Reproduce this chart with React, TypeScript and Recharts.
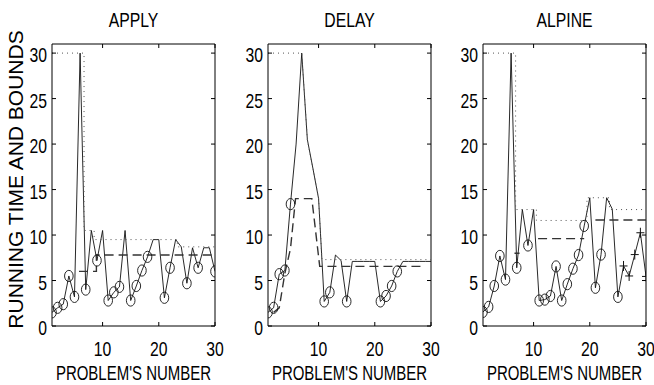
import React from 'react';
import { LineChart, Line, XAxis, YAxis, ReferenceLine } from 'recharts';

// problem numbers run 1..30 on every panel
const X_TICKS = [10, 20, 30];
const Y_TICKS = [0, 5, 10, 15, 20, 25, 30];
const TITLES = ['APPLY', 'DELAY', 'ALPINE'];
const X_LABEL = "PROBLEM'S NUMBER";
const Y_LABEL = 'RUNNING TIME AND BOUNDS';

// APPLY
const applyTime = [1.5, 2.0, 2.4, 5.5, 3.2, 30, 4.0, 10.5, 7.2, 10.5, 2.8, 3.7, 4.3, 10.5, 2.8, 4.4, 6.1, 7.6, 9.5, 9.5, 3.1, 6.4, 9.5, 8.7, 4.7, 8.6, 6.4, 8.6, 8.6, 6.0];
const applyMarks = 'ooooo.o.o.ooo.oooo..oo..o.o..o';
const applyUpperX = [1, 6.7, 6.7, 8.5, 8.5, 23.3, 23.3, 30];
const applyUpperY = [30, 30, 10.5, 10.5, 9.5, 9.5, 8.7, 8.7];
const applyLowerX = [5.8, 8.9, 8.9, 30];
const applyLowerY = [6, 6, 7.8, 7.8];

// DELAY
const delayTime = [1.5, 2.0, 5.7, 6.1, 13.4, 20, 30, 20.5, 17.3, 14.0, 2.7, 3.7, 7.8, 7.2, 2.7, 7.1, 7.1, 7.1, 7.1, 7.1, 2.7, 3.3, 4.4, 6.0, 7.1, 7.1, 7.1, 7.1, 7.1, 7.1];
const delayMarks = 'ooooo.....oo..o.....oooo......';
const delayUpperX = [1, 7, 8, 9, 10, 10.6, 30];
const delayUpperY = [30, 30, 20.5, 17.3, 14, 7.3, 7.3];
const delayLowerX = [2, 3, 4, 5, 5.9, 8.8, 10.2, 29];
const delayLowerY = [1.5, 2.0, 5.8, 8.5, 14, 14, 6.55, 6.55];

// ALPINE
const alpineTime = [1.55, 2.1, 4.4, 7.7, 5.1, 30, 6.4, 12.8, 8.85, 12.8, 2.8, 2.9, 3.3, 6.55, 2.8, 4.6, 6.3, 7.8, 11.0, 14.1, 4.2, 7.85, 14.1, 12.85, 3.2, 6.6, 5.5, 7.85, 10.25, 5.45];
const alpineMarks = 'ooooo.o.o.ooooooooo.oo..o+++++';
const alpineUpperX = [1, 6.8, 6.8, 10.5, 10.5, 19.5, 19.5, 23.5, 23.5, 30];
const alpineUpperY = [30, 30, 12.8, 12.8, 11.6, 11.6, 14.1, 14.1, 12.8, 12.8];
const alpineLowerX = [6.6, 7.5, 7.5, 10.8, 19, 19, 21, 30];
const alpineLowerY = [8, 8, null, 9.6, 9.6, null, 11.65, 11.65];

const FONT = '"Liberation Sans", Arial, Helvetica, sans-serif';
const PLOT_W = 163;
const AXIS_W = 52;
const TOP = 44;
const BOTTOM = 326;
const CHART_W = AXIS_W + PLOT_W + 12;
const PANEL_LEFT = [0, 216, 431];

const XTick = (props: any) => {
  const { x, payload } = props;
  return (
    <g>
      <line x1={x} x2={x} y1={BOTTOM} y2={BOTTOM - 4} stroke="#000" />
      <line x1={x} x2={x} y1={TOP} y2={TOP + 4} stroke="#000" />
      <text transform={`translate(${x},356) scale(0.75,1)`} textAnchor="middle" fontSize={21} fontFamily={FONT} fill="#000">
        {payload.value}
      </text>
    </g>
  );
};

const YTick = (props: any) => {
  const { y, payload } = props;
  return (
    <g>
      <line x1={AXIS_W} x2={AXIS_W + 4} y1={y} y2={y} stroke="#000" />
      <line x1={AXIS_W + PLOT_W} x2={AXIS_W + PLOT_W - 4} y1={y} y2={y} stroke="#000" />
      <text transform={`translate(${AXIS_W - 5},${y + 9}) scale(0.75,1)`} textAnchor="end" fontSize={21} fontFamily={FONT} fill="#000">
        {payload.value}
      </text>
    </g>
  );
};

const renderMark = (props: any) => {
  const { cx, cy, payload, index } = props;
  const key = `m${index}`;
  if (payload.m === 'o') {
    return <ellipse key={key} cx={cx} cy={cy} rx={4.3} ry={5.6} fill="none" stroke="#111" strokeWidth={0.9} />;
  }
  if (payload.m === '+') {
    return (
      <g key={key} stroke="#111" strokeWidth={1}>
        <line x1={cx - 4} x2={cx + 4} y1={cy} y2={cy} />
        <line x1={cx} x2={cx} y1={cy - 5} y2={cy + 5} />
      </g>
    );
  }
  return <g key={key} />;
};

interface PanelProps {
  left: number;
  time: number[];
  marks: string;
  upperX: number[];
  upperY: number[];
  lowerX: number[];
  lowerY: (number | null)[];
}

const Panel: React.FC<PanelProps> = ({ left, time, marks, upperX, upperY, lowerX, lowerY }) => {
  const run = time.map((y, i) => ({ x: i + 1, y, m: marks[i] }));
  const upper = upperX.map((x, i) => ({ x, y: upperY[i] }));
  const lower = lowerX.map((x, i) => ({ x, y: lowerY[i] }));

  return (
    <div style={{ position: 'absolute', left, top: 0 }}>
      <LineChart width={CHART_W} height={385} margin={{ top: TOP, right: 12, bottom: 0, left: 0 }}>
        <XAxis
          dataKey="x"
          type="number"
          domain={[1, 30]}
          ticks={X_TICKS}
          interval={0}
          height={385 - BOTTOM}
          tickLine={false}
          axisLine={{ stroke: '#000' }}
          tick={XTick}
          allowDataOverflow
        />
        <YAxis
          type="number"
          domain={[0, 31]}
          ticks={Y_TICKS}
          interval={0}
          width={AXIS_W}
          tickLine={false}
          axisLine={{ stroke: '#000' }}
          tick={YTick}
          allowDataOverflow
        />
        <ReferenceLine y={31} stroke="#000" />
        <ReferenceLine x={30} stroke="#000" />
        <Line data={run} dataKey="y" type="linear" stroke="#111" strokeWidth={0.9} dot={renderMark} activeDot={false} isAnimationActive={false} />
        <Line data={upper} dataKey="y" type="linear" stroke="#555" strokeWidth={1} strokeDasharray="1 4" dot={false} activeDot={false} isAnimationActive={false} />
        <Line data={lower} dataKey="y" type="linear" stroke="#333" strokeWidth={1.4} strokeDasharray="9 5" dot={false} activeDot={false} connectNulls={false} isAnimationActive={false} />
      </LineChart>
    </div>
  );
};

const App: React.FC = () => {
  const centers = PANEL_LEFT.map((l) => l + AXIS_W + PLOT_W / 2);
  return (
    <div style={{ position: 'absolute', left: 0, top: 0, width: 654, height: 385, background: '#fff', overflow: 'hidden' }}>
      <Panel left={PANEL_LEFT[0]} time={applyTime} marks={applyMarks} upperX={applyUpperX} upperY={applyUpperY} lowerX={applyLowerX} lowerY={applyLowerY} />
      <Panel left={PANEL_LEFT[1]} time={delayTime} marks={delayMarks} upperX={delayUpperX} upperY={delayUpperY} lowerX={delayLowerX} lowerY={delayLowerY} />
      <Panel left={PANEL_LEFT[2]} time={alpineTime} marks={alpineMarks} upperX={alpineUpperX} upperY={alpineUpperY} lowerX={alpineLowerX} lowerY={alpineLowerY} />
      <svg width={654} height={385} style={{ position: 'absolute', left: 0, top: 0, pointerEvents: 'none' }}>
        {TITLES.map((t, i) => (
          <text key={t} transform={`translate(${centers[i]},26.7) scale(0.75,1)`} textAnchor="middle" fontSize={21} fontFamily={FONT}>
            {t}
          </text>
        ))}
        {centers.map((c, i) => (
          <text key={i} transform={`translate(${c},380) scale(0.75,1)`} textAnchor="middle" fontSize={20} fontFamily={FONT}>
            {X_LABEL}
          </text>
        ))}
        <text transform="translate(23,179.5) rotate(-90)" textAnchor="middle" fontSize={21} fontFamily={FONT}>
          {Y_LABEL}
        </text>
      </svg>
    </div>
  );
};

export default App;
